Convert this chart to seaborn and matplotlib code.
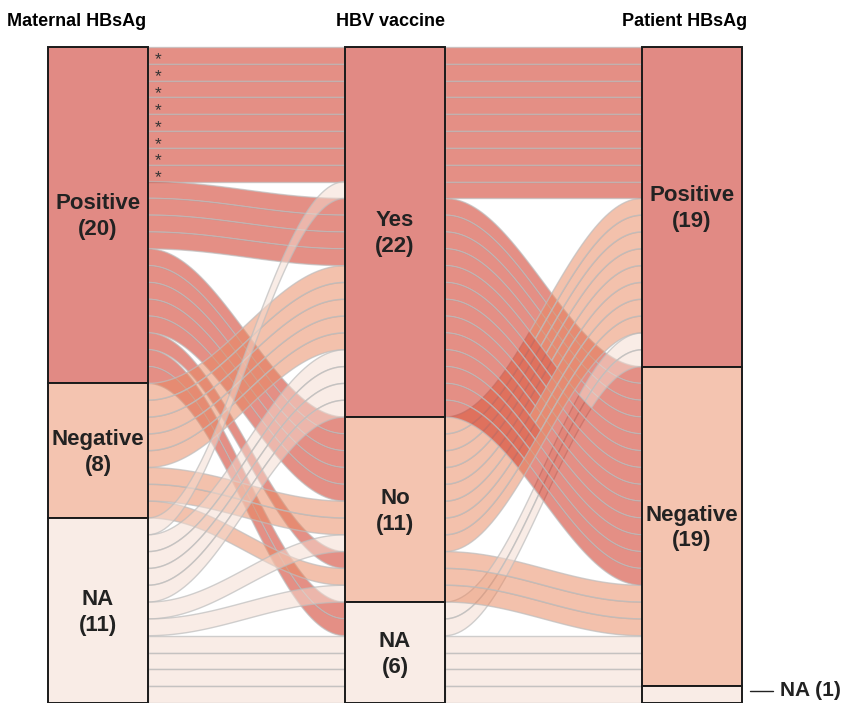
import numpy as np
import pandas as pd
import matplotlib
matplotlib.use("Agg")
import matplotlib.pyplot as plt
from matplotlib.patches import Rectangle, Polygon
import seaborn as sns

# axes of the alluvial plot
axis_titles = ["Maternal HBsAg", "HBV vaccine", "Patient HBsAg"]
maternal_levels = ["Positive", "Negative", "NA"]
vaccine_levels = ["Yes", "No", "NA"]
patient_levels = ["Positive", "Negative", "NA"]

# one entry per combination of answers, with number of patients
maternal = ["Positive", "Positive", "Positive", "Positive", "Positive",
            "Negative", "Negative", "Negative",
            "NA", "NA", "NA", "NA", "NA", "NA"]
vaccine = ["Yes", "Yes", "No", "No", "NA",
           "Yes", "No", "No",
           "Yes", "Yes", "No", "No", "NA", "NA"]
patient = ["Positive", "Negative", "Positive", "Negative", "Positive",
           "Negative", "Positive", "Negative",
           "Positive", "Negative", "Positive", "Negative", "Negative", "NA"]
n_patients = [8, 4, 5, 1, 2, 5, 2, 1, 1, 4, 1, 1, 3, 1]
starred_path = ("Positive", "Yes", "Positive")

# colours (flows are drawn half transparent)
base_colors = [(205/255, 40/255, 22/255), (233/255, 137/255, 97/255), (245/255, 219/255, 207/255)]
alpha = 0.52

sns.set_style("white")
plt.rcParams['font.family'] = ['Liberation Sans', 'DejaVu Sans']

# expand to one row per patient
df = pd.DataFrame({"maternal": maternal, "vaccine": vaccine,
                   "patient": patient, "n": n_patients})
df = df.loc[df.index.repeat(df["n"])].reset_index(drop=True)
df["m"] = df["maternal"].map({k: i for i, k in enumerate(maternal_levels)})
df["v"] = df["vaccine"].map({k: i for i, k in enumerate(vaccine_levels)})
df["p"] = df["patient"].map({k: i for i, k in enumerate(patient_levels)})

# lode order on each axis
for col, keys in [("pos_m", ["m", "v", "p"]),
                  ("pos_v", ["v", "p", "m"]),
                  ("pos_p", ["p", "v", "m"])]:
    order = df.sort_values(keys, kind="mergesort").index
    df.loc[order, col] = np.arange(len(df))

N = len(df)
W, H, DPI = 845, 703, 100
fig = plt.figure(figsize=(W / DPI, H / DPI), dpi=DPI)
ax = fig.add_axes([0, 0, 1, 1])
px_x = 297.0
px_y = 656.0 / N
ax.set_xlim(-98 / px_x, (W - 98) / px_x)
ax.set_ylim(N, -47 / px_y)
ax.axis("off")

hw = 50 / px_x
t = np.linspace(0, 1, 60)
s = (1 - np.cos(np.pi * t)) / 2


def draw_flow(x0, x1, y0, y1, color):
    xs = x0 + (x1 - x0) * t
    top = y0 + (y1 - y0) * s
    pts = np.vstack([np.column_stack([xs, top]),
                     np.column_stack([xs[::-1], top[::-1] + 1])])
    ax.add_patch(Polygon(pts, closed=True, facecolor=(*color, alpha),
                         edgecolor=(0.74, 0.74, 0.74, 0.7), linewidth=1.0,
                         zorder=1))


segments = [("pos_m", "pos_v", "m", 0), ("pos_v", "pos_p", "v", 1)]
for a, b, colkey, xi in segments:
    for _, r in df.iterrows():
        draw_flow(xi + hw, xi + 1 - hw, r[a], r[b], base_colors[int(r[colkey])])

# strata boxes
strata = [(maternal_levels, "m"), (vaccine_levels, "v"), (patient_levels, "p")]
box_faces = ["#e18a84", "#f4c4b0", "#f9ece6"]
for xi, (levels, key) in enumerate(strata):
    counts = df[key].value_counts().reindex(range(3), fill_value=0)
    y = 0
    for li, lev in enumerate(levels):
        c = counts[li]
        ax.add_patch(Rectangle((xi - hw, y), 2 * hw, c, facecolor=box_faces[li],
                               edgecolor="#1a1a1a", linewidth=1.4, zorder=3))
        if c >= 3:
            ax.text(xi, y + c / 2 + 0.1, f"{lev}\n({c})", ha="center", va="center",
                    fontsize=16, fontweight="bold", color="#222222",
                    linespacing=1.3, zorder=4)
        else:
            ax.plot([xi + hw + 8 / px_x, xi + hw + 31 / px_x],
                    [y + c / 2 - 0.2, y + c / 2 - 0.2], color="#222222",
                    lw=1, clip_on=False, zorder=4)
            ax.text(xi + hw + 38 / px_x, y + c / 2 - 0.25, f"{lev} ({c})",
                    ha="left", va="center", fontsize=15, fontweight="bold",
                    color="#222222", zorder=4)
        y += c

# asterisks on the flat maternal-positive / vaccinated / positive strands
star = df[(df["maternal"] == starred_path[0]) & (df["vaccine"] == starred_path[1])
          & (df["patient"] == starred_path[2])]
for _, r in star.iterrows():
    ax.text(hw + 10 / px_x, r["pos_m"] + 0.78, "*", ha="center", va="center",
            fontsize=12.5, color="#333333", zorder=4)

# axis titles
title_x = [-21 / px_x, 1 - 4 / px_x, 2 - 7 / px_x]
for xi, title in zip(title_x, axis_titles):
    ax.text(xi, -25 / px_y, title, ha="center", va="center", fontsize=13,
            fontweight="bold", color="black")

fig.savefig("out.png", dpi=DPI)
